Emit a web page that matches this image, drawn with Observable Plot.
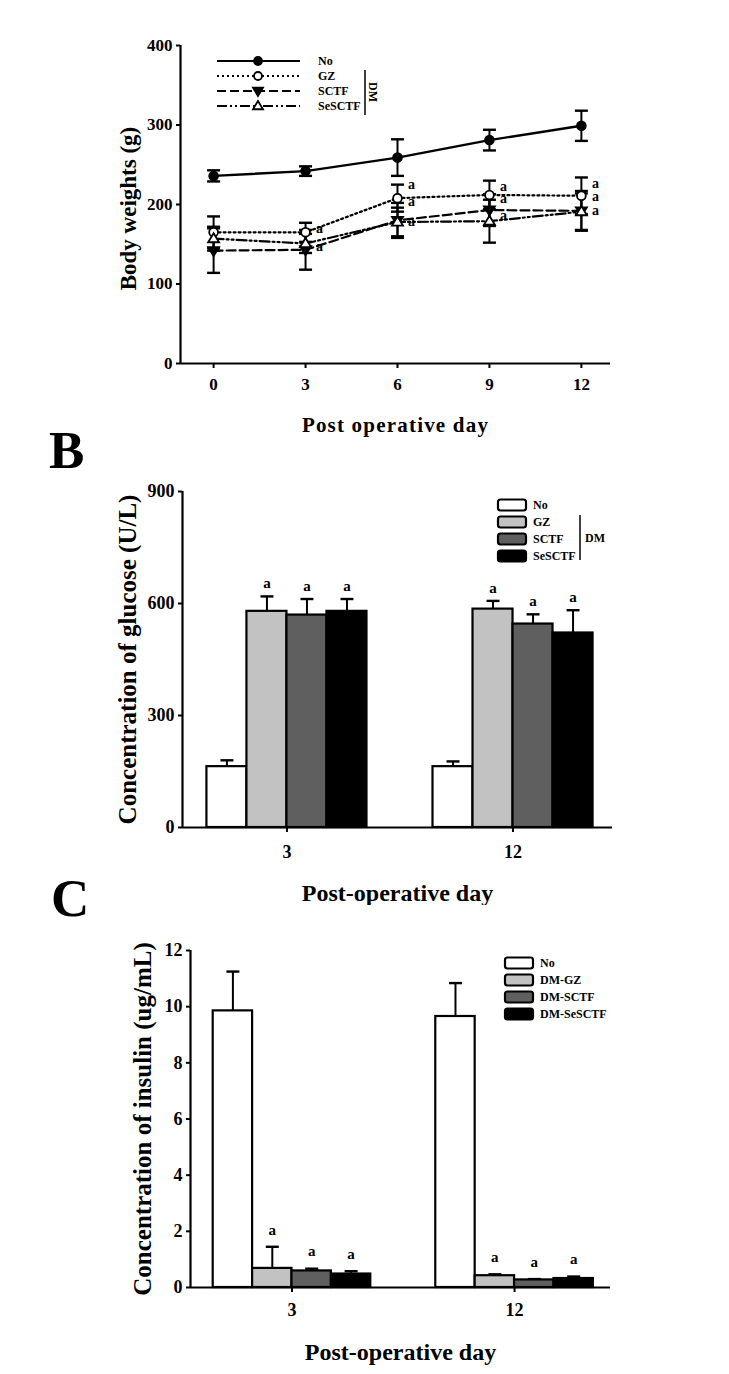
<!DOCTYPE html>
<html><head><meta charset="utf-8">
<script src="https://cdn.jsdelivr.net/npm/d3@7"></script>
<script src="https://cdn.jsdelivr.net/npm/@observablehq/plot@0.6"></script>
<style>
body{margin:0;background:#fff;}
#wrap{position:relative;width:729px;height:1374px;font-family:"Liberation Serif","Times New Roman",serif;font-weight:bold;overflow:hidden;}
.panel{position:absolute;left:0;}
.letter{position:absolute;font-weight:bold;font-size:53px;line-height:1;}
</style></head><body><div id="wrap"></div>
<script>
// ---------- data ----------
const days = [0, 3, 6, 9, 12];
const seriesNames = ["No", "GZ", "SCTF", "SeSCTF"];
const insulinNames = ["No", "DM-GZ", "DM-SCTF", "DM-SeSCTF"];

const weightNo = [236, 242, 259, 281, 299];
const weightNoErr = [7, 6, 23, 13, 19];
const weightGZ = [165, 165, 208, 212, 211];
const weightGZErr = [20, 12, 17, 18, 23];
const weightSCTF = [142, 143, 180, 193, 192];
const weightSCTFErr = [28, 25, 22, 20, 25];
const weightSeSCTF = [157, 151, 178, 179, 191];
const weightSeSCTFErr = [15, 12, 18, 27, 23];
const sigDaysA = [3, 3, 6, 6, 6, 9, 9, 9, 12, 12, 12];
const sigValA = [170, 147, 225, 204, 178, 223, 207, 186, 226, 210, 193];

const barDays = ["3", "12"];
const glucoseNo = [163, 163];
const glucoseNoErr = [17, 14];
const glucoseGZ = [579, 585];
const glucoseGZErr = [40, 22];
const glucoseSCTF = [569, 545];
const glucoseSCTFErr = [43, 26];
const glucoseSeSCTF = [579, 521];
const glucoseSeSCTFErr = [33, 61];

const insulinNo = [9.85, 9.65];
const insulinNoErr = [1.4, 1.19];
const insulinGZ = [0.68, 0.42];
const insulinGZErr = [0.77, 0.05];
const insulinSCTF = [0.59, 0.27];
const insulinSCTFErr = [0.08, 0.03];
const insulinSeSCTF = [0.48, 0.32];
const insulinSeSCTFErr = [0.1, 0.07];

// ---------- styles ----------
const FONT = '"Liberation Serif","Times New Roman",serif';
const barFills = ["#ffffff", "#c2c2c2", "#5f5f5f", "#000000"];
const dashes = [null, "2,3", "9,4", "10,3,2,3,2,3"];

const triDown = {draw(ctx, size) {const r = Math.sqrt(size / Math.PI) * 1.25; ctx.moveTo(-r, -r * 0.65); ctx.lineTo(r, -r * 0.65); ctx.lineTo(0, r); ctx.closePath();}};
const triUp = {draw(ctx, size) {const r = Math.sqrt(size / Math.PI) * 1.25; ctx.moveTo(-r, r * 0.65); ctx.lineTo(r, r * 0.65); ctx.lineTo(0, -r); ctx.closePath();}};
const capSym = {draw(ctx, size) {const w = Math.sqrt(size / Math.PI); ctx.moveTo(-w, 0); ctx.lineTo(w, 0);}};
const symbols = [d3.symbolCircle, d3.symbolCircle, triDown, triUp];
const symFill = ["black", "white", "black", "white"];

const wrap = document.getElementById("wrap");
function place(svg, top) {svg.classList.add("panel"); svg.style.top = top + "px"; wrap.appendChild(svg);}
function letter(t, x, y) {const d = document.createElement("div"); d.className = "letter"; d.textContent = t; d.style.left = x + "px"; d.style.top = y + "px"; wrap.appendChild(d);}

// ---------- Panel A ----------
const seriesA = [
  {name: "No", v: weightNo, e: weightNoErr},
  {name: "GZ", v: weightGZ, e: weightGZErr},
  {name: "SCTF", v: weightSCTF, e: weightSCTFErr},
  {name: "SeSCTF", v: weightSeSCTF, e: weightSeSCTFErr}
];
const rowsA = seriesA.flatMap((s, si) => days.map((d, i) => ({series: s.name, si, day: d, v: s.v[i], e: s.e[i]})));
const sigA = sigDaysA.map((d, i) => ({day: d, v: sigValA[i]}));
const xDomA = [-1.08, 12.95];

const plotA = Plot.plot({
  width: 729, height: 440,
  marginLeft: 180, marginRight: 119, marginTop: 45, marginBottom: 77,
  style: {fontFamily: FONT, fontSize: "17px", fontWeight: "bold", color: "black", background: "white"},
  x: {domain: xDomA},
  y: {domain: [0, 400]},
  marks: [
    Plot.axisX({ticks: days, tickFormat: d => d, tickSize: 5, tickPadding: 9, label: null, strokeWidth: 2}),
    Plot.axisY({ticks: [0, 100, 200, 300, 400], tickSize: 4, tickPadding: 4, label: null, strokeWidth: 2}),
    Plot.ruleY([0], {strokeWidth: 2.2}),
    Plot.ruleX([xDomA[0]], {strokeWidth: 2.2}),
    Plot.ruleX(rowsA, {x: "day", y1: d => d.v - d.e, y2: d => d.v + d.e, strokeWidth: 2}),
    Plot.dot(rowsA, {x: "day", y: d => d.v + d.e, symbol: capSym, r: 6.5, fill: "none", stroke: "black", strokeWidth: 2.4}),
    Plot.dot(rowsA, {x: "day", y: d => d.v - d.e, symbol: capSym, r: 6.5, fill: "none", stroke: "black", strokeWidth: 2.4}),
    ...seriesNames.map((n, i) => Plot.line(rowsA.filter(d => d.series === n), {x: "day", y: "v", stroke: "black", strokeWidth: i === 0 ? 2.4 : 2.2, strokeDasharray: dashes[i]})),
    ...seriesNames.map((n, i) => Plot.dot(rowsA.filter(d => d.series === n), {x: "day", y: "v", symbol: symbols[i], r: 4.4, fill: symFill[i], stroke: "black", strokeWidth: 1.8})),
    Plot.text(sigA, {x: "day", y: "v", text: () => "a", dx: 14, fontSize: 14}),
    Plot.text(["Body weights (g)"], {frameAnchor: "left", textAnchor: "middle", lineAnchor: "middle", rotate: -90, dx: -52, dy: 4, fontSize: 23}),
    Plot.text(["Post operative day"], {frameAnchor: "bottom", textAnchor: "middle", lineAnchor: "middle", dy: 62, fontSize: 21})
  ]
});
place(plotA, 0);
plotA.querySelectorAll("text").forEach(t => {if (t.textContent === "Post operative day") t.style.letterSpacing = "1.2px";});

// legend A
{
  const g = d3.select(plotA).append("g").attr("font-family", FONT).attr("font-weight", "bold").attr("font-size", 12).attr("text-anchor", "start");
  const rows = [61, 76, 91, 106];
  seriesNames.forEach((n, i) => {
    const y = rows[i];
    g.append("line").attr("x1", 217).attr("x2", 300).attr("y1", y).attr("y2", y)
      .attr("stroke", "black").attr("stroke-width", 2.2).attr("stroke-dasharray", dashes[i]);
    const s = d3.symbol(symbols[i], 16 * Math.PI);
    g.append("path").attr("d", s()).attr("transform", `translate(258,${y})`)
      .attr("fill", symFill[i]).attr("stroke", "black").attr("stroke-width", 1.8);
    g.append("text").attr("x", 318).attr("y", y).attr("dy", "0.35em").text(n);
  });
  g.append("line").attr("x1", 365).attr("x2", 365).attr("y1", 70).attr("y2", 115).attr("stroke", "black").attr("stroke-width", 1.5);
  g.append("text").attr("transform", "translate(373,92) rotate(90)").attr("text-anchor", "middle").attr("dy", "0.35em").text("DM");
}

// ---------- bar panels helper ----------
const W = 0.177;
function barRows(vals, errs, names) {
  return vals.flatMap((arr, si) => arr.map((v, gi) => ({series: names[si], si, gi, v, e: errs[si][gi]})));
}
function barPanel(opts) {
  const {rows, names, xDom, yDom, yTicks, width, height, mt, mb, ml, mr, yLabel, labelDx, xLabelDy, tickPad, sigDy, fontTick, labelFont, legendRows, legendX, dm} = opts;
  const center = d => d.gi + (d.si - 1.5) * W;
  const plot = Plot.plot({
    width, height, marginLeft: ml, marginRight: mr, marginTop: mt, marginBottom: mb,
    style: {fontFamily: FONT, fontSize: fontTick + "px", fontWeight: "bold", color: "black", background: "white"},
    x: {domain: xDom},
    y: {domain: yDom},
    color: {domain: names, range: barFills},
    marks: [
      Plot.ruleX(rows, {x: center, y1: "v", y2: d => d.v + d.e, strokeWidth: 2}),
      Plot.dot(rows, {x: center, y: d => d.v + d.e, symbol: capSym, r: 6.5, fill: "none", stroke: "black", strokeWidth: 2.4}),
      Plot.rectY(rows, {x1: d => d.gi + (d.si - 2) * W, x2: d => d.gi + (d.si - 1) * W, y1: 0, y2: "v", fill: "series", stroke: "black", strokeWidth: 2.2}),
      Plot.axisX({ticks: [0, 1], tickFormat: i => barDays[i], tickSize: 5, tickPadding: tickPad, label: null, strokeWidth: 2}),
      Plot.axisY({ticks: yTicks, tickSize: 4, tickPadding: 4, label: null, strokeWidth: 2}),
      Plot.ruleY([0], {strokeWidth: 2.2}),
      Plot.ruleX([xDom[0]], {strokeWidth: 2.2}),
      Plot.text(rows.filter(d => d.si > 0), {x: center, y: d => d.v + d.e, text: () => "a", dy: sigDy, fontSize: 15}),
      Plot.text([yLabel], {frameAnchor: "left", textAnchor: "middle", lineAnchor: "middle", rotate: -90, dx: labelDx, fontSize: labelFont}),
      Plot.text(["Post-operative day"], {frameAnchor: "bottom", textAnchor: "middle", lineAnchor: "middle", dy: xLabelDy, fontSize: 24})
    ]
  });
  const g = d3.select(plot).append("g").attr("font-family", FONT).attr("font-weight", "bold").attr("font-size", 12).attr("text-anchor", "start");
  names.forEach((n, i) => {
    const y = legendRows[i];
    g.append("rect").attr("x", legendX).attr("y", y - 5.5).attr("width", 28).attr("height", 11).attr("rx", 2.5)
      .attr("fill", barFills[i]).attr("stroke", "black").attr("stroke-width", 2.2);
    g.append("text").attr("x", legendX + 35).attr("y", y).attr("dy", "0.35em").text(n);
  });
  if (dm) {
    g.append("line").attr("x1", dm.x).attr("x2", dm.x).attr("y1", dm.y1).attr("y2", dm.y2).attr("stroke", "black").attr("stroke-width", 1.5);
    g.append("text").attr("x", dm.x + 5).attr("y", (dm.y1 + dm.y2) / 2).attr("dy", "0.35em").text("DM");
  }
  return plot;
}

// ---------- Panel B ----------
const rowsB = barRows([glucoseNo, glucoseGZ, glucoseSCTF, glucoseSeSCTF],
  [glucoseNoErr, glucoseGZErr, glucoseSCTFErr, glucoseSeSCTFErr], seriesNames);
const plotB = barPanel({
  rows: rowsB, names: seriesNames, xDom: [-0.462, 1.44], yDom: [0, 900], yTicks: [0, 300, 600, 900],
  width: 729, height: 465, mt: 51, mb: 78, ml: 182, mr: 117,
  yLabel: "Concentration of glucose (U/L)", labelDx: -55, xLabelDy: 66, tickPad: 13, sigDy: -13, fontTick: 18, labelFont: 25,
  legendRows: [65, 82, 99, 116], legendX: 498, dm: {x: 580, y1: 75, y2: 120}
});
place(plotB, 440);

// ---------- Panel C ----------
const rowsC = barRows([insulinNo, insulinGZ, insulinSCTF, insulinSeSCTF],
  [insulinNoErr, insulinGZErr, insulinSCTFErr, insulinSeSCTFErr], insulinNames);
const plotC = barPanel({
  rows: rowsC, names: insulinNames, xDom: [-0.456, 1.431], yDom: [0, 12], yTicks: [0, 2, 4, 6, 8, 10, 12],
  width: 729, height: 469, mt: 45, mb: 87, ml: 190, mr: 119,
  yLabel: "Concentration of insulin (ug/mL)", labelDx: -48, xLabelDy: 65, tickPad: 11, sigDy: -17, fontTick: 18, labelFont: 25,
  legendRows: [58, 75, 92, 109], legendX: 505, dm: null
});
place(plotC, 905);

letter("B", 49, 424);
letter("C", 51, 872);
</script></body></html>
